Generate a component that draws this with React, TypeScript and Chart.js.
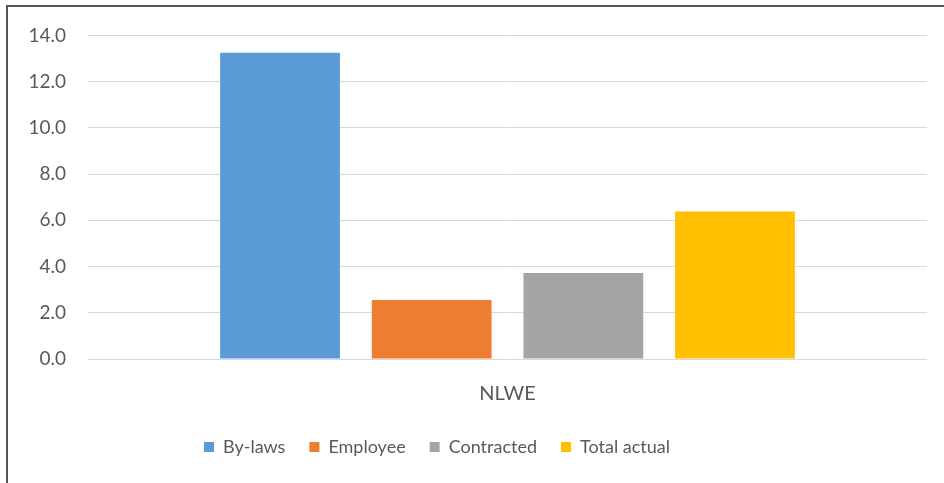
import React, { useEffect, useRef } from "react";
import { Chart, registerables } from "chart.js";

Chart.register(...registerables);

const categories = ["NLWE"];
const seriesNames = ["By-laws", "Employee", "Contracted", "Total actual"];
const byLaws = [13.25];
const employee = [2.55];
const contracted = [3.72];
const totalActual = [6.38];
const seriesColors = ["#5B9BD5", "#ED7D31", "#A5A5A5", "#FFC000"];
const yTicks = { min: 0, max: 14, step: 2 };

const legendShift = {
  id: "legendShift",
  afterLayout(chart: any) {
    const lg = chart.legend;
    if (lg) {
      lg.left -= 30;
      lg.right -= 30;
      lg.top -= 7;
      lg.bottom -= 7;
    }
  },
};

export default function App() {
  const ref = useRef<HTMLCanvasElement | null>(null);
  useEffect(() => {
    const values = [byLaws, employee, contracted, totalActual];
    const font = "Lato, 'Open Sans', sans-serif";
    const chart = new Chart(ref.current!, {
      type: "bar",
      data: {
        labels: categories,
        datasets: seriesNames.map((n, i) => ({
          label: n,
          data: values[i],
          backgroundColor: seriesColors[i],
          borderWidth: 0,
          categoryPercentage: 0.723,
          barPercentage: 0.79,
        })),
      },
      plugins: [legendShift],
      options: {
        animation: false,
        responsive: false,
        maintainAspectRatio: false,
        layout: { padding: { top: 0, right: 17, left: 0, bottom: 10 } },
        plugins: {
          tooltip: { enabled: false },
          legend: {
            position: "bottom",
            labels: {
              boxWidth: 10,
              boxHeight: 10,
              padding: 24,
              color: "#595959",
              font: { family: font, size: 18 },
            },
          },
        },
        scales: {
          x: {
            grid: { display: false },
            border: { display: false },
            ticks: { color: "#595959", font: { family: font, size: 20 }, padding: 15 },
          },
          y: {
            min: yTicks.min,
            max: yTicks.max,
            border: { display: false },
            grid: { color: "#d9d9d9", drawTicks: false },
            ticks: {
              stepSize: yTicks.step,
              color: "#595959",
              font: { family: font, size: 19 },
              padding: 22,
              callback: (v: any) => Number(v).toFixed(1),
            },
            afterFit: (s: any) => {
              s.width = 81;
            },
          },
        },
      },
    });
    return () => chart.destroy();
  }, []);
  return (
    <div style={{ position: "fixed", left: 0, top: 0, width: 944, height: 483, background: "#fff" }}>
      <canvas ref={ref} width={937} height={481} style={{ position: "absolute", left: 7, top: 2 }} />
      <div
        style={{
          position: "absolute",
          left: 6,
          top: 5,
          width: 938,
          height: 478,
          borderLeft: "2px solid #555",
          borderTop: "2px solid #555",
          boxSizing: "border-box",
          pointerEvents: "none",
        }}
      />
    </div>
  );
}
